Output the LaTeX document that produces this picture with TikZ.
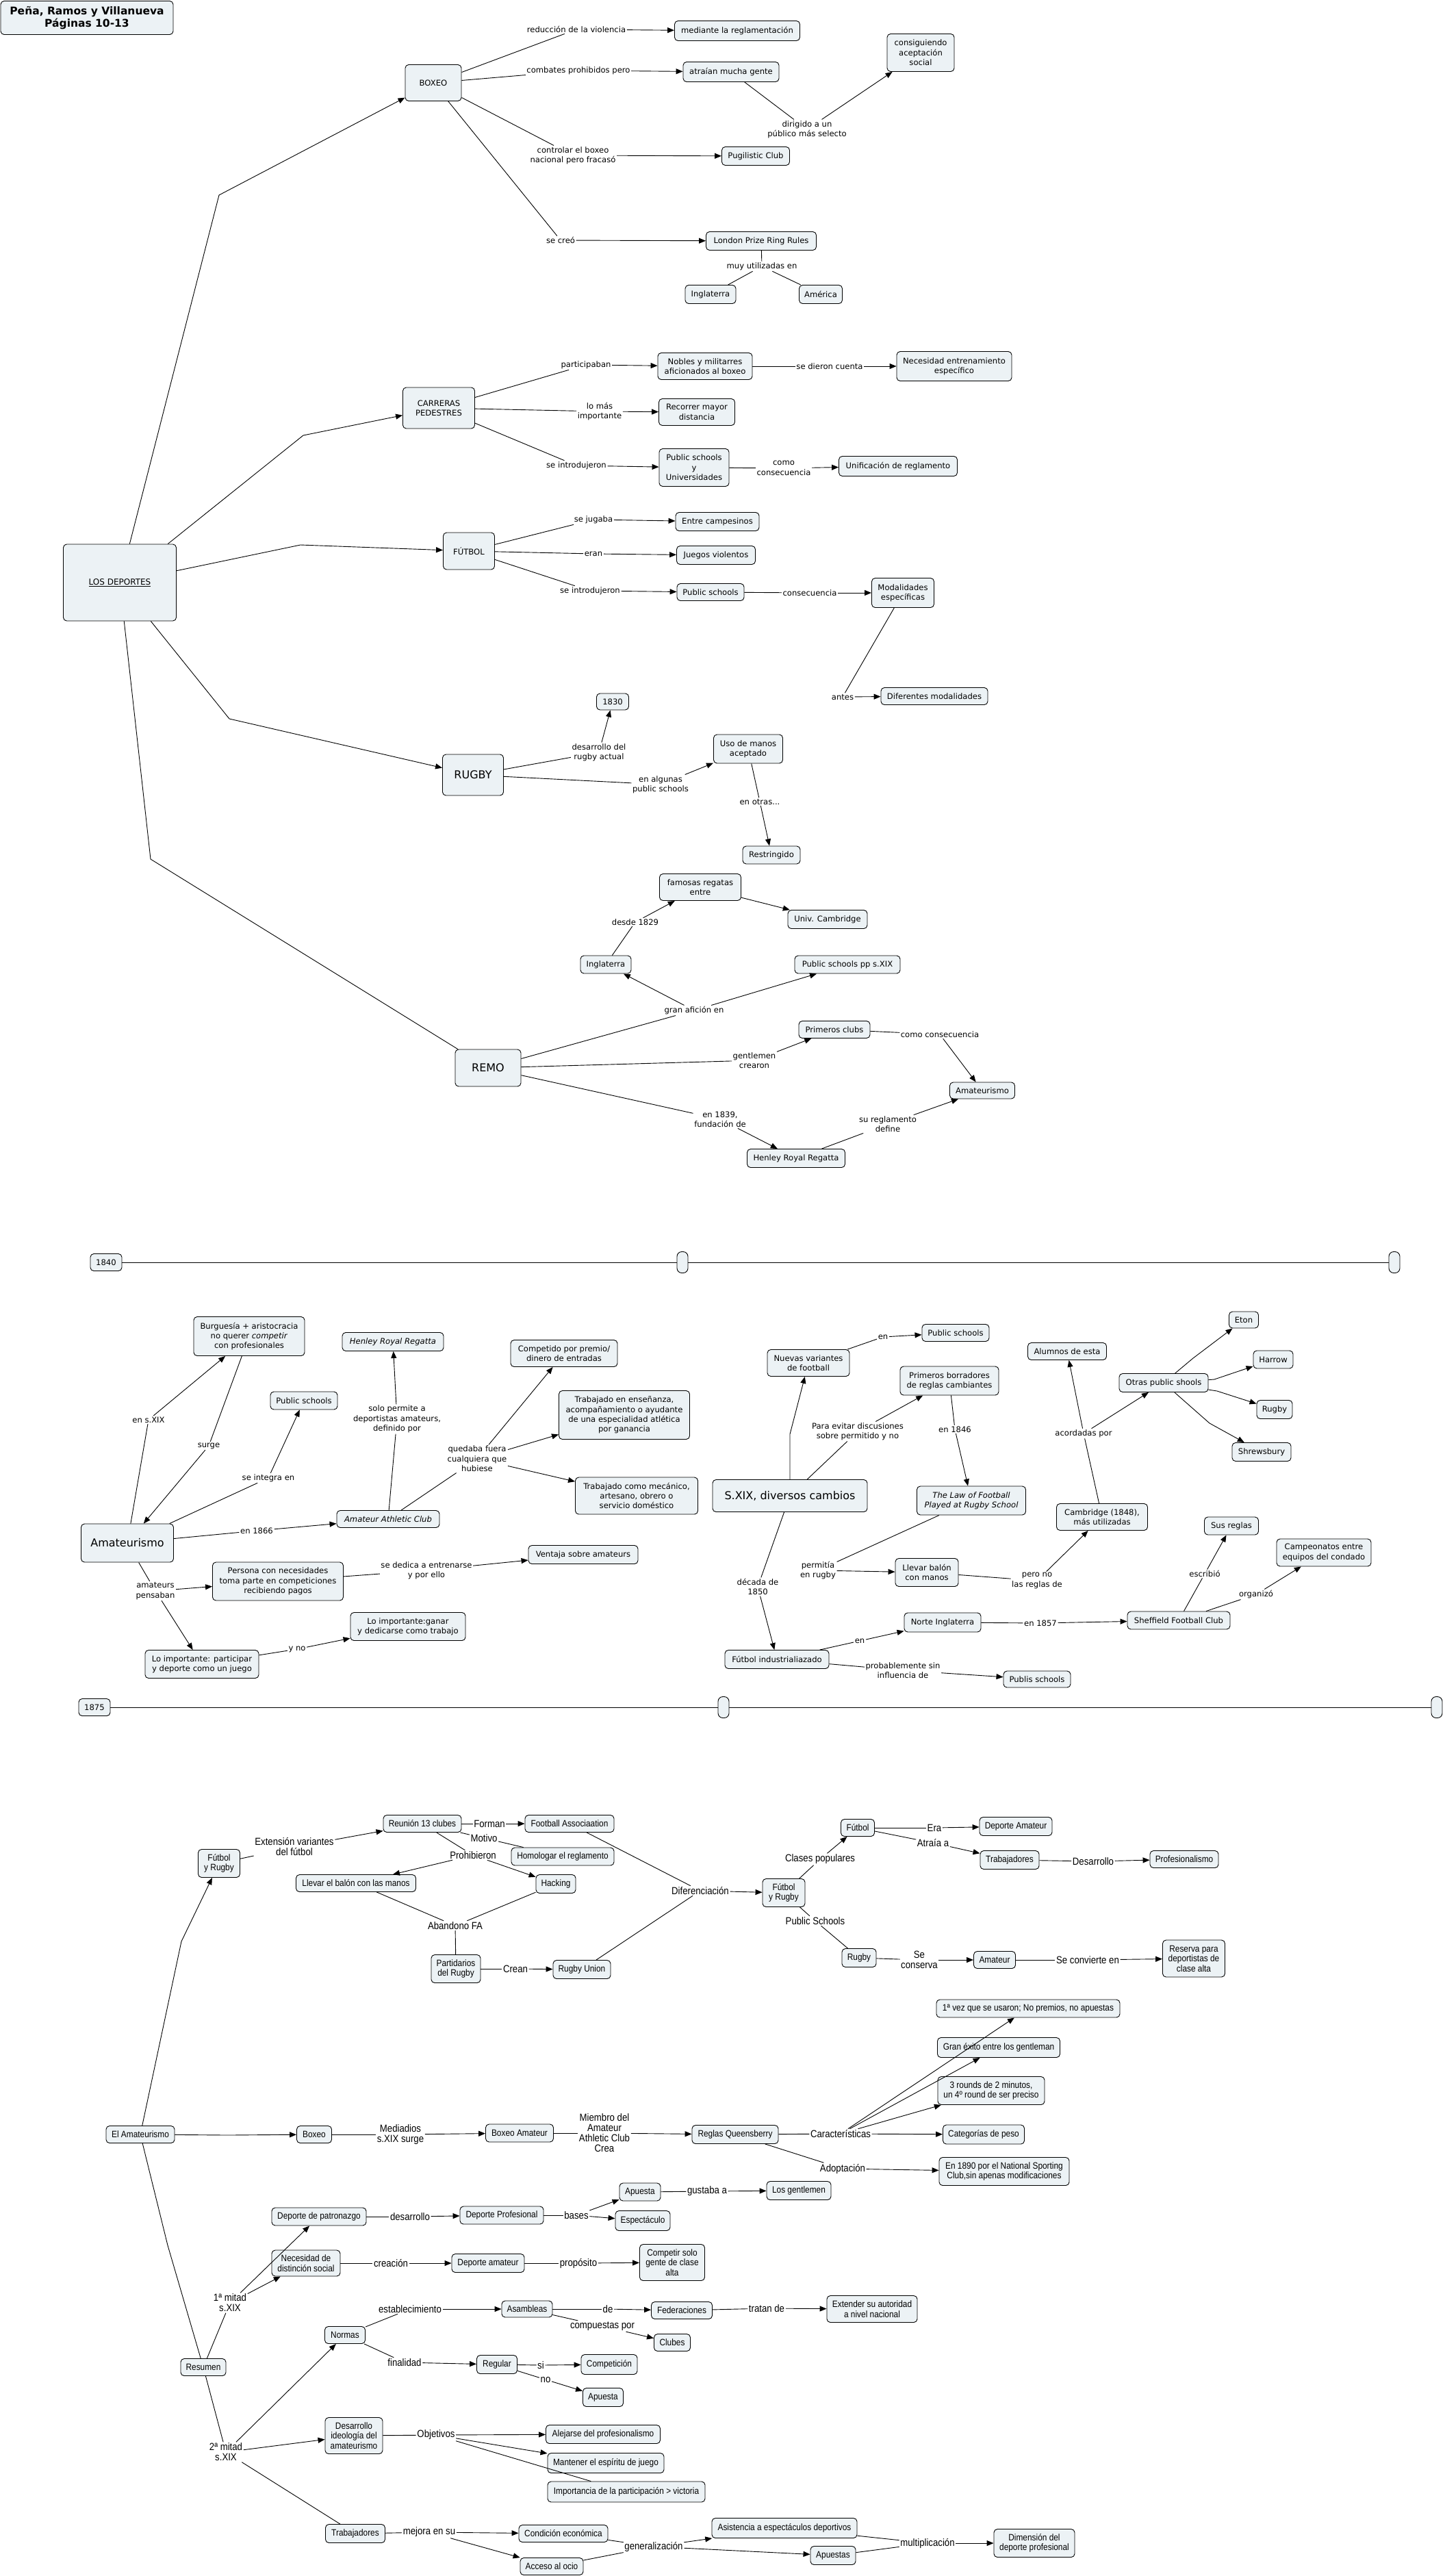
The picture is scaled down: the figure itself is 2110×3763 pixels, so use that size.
\documentclass[tikz,border=0pt]{standalone}
\usepackage{fontspec}
\setmainfont{DejaVu Sans}
\newfontfamily\narrowfam{Liberation Sans}[FakeStretch=0.88]
\usetikzlibrary{arrows.meta}
\definecolor{cfill}{RGB}{236,242,245}
\newcommand\fA{\fontsize{11.6}{14.4}\selectfont}
\newcommand\fBig{\fontsize{16}{19}\selectfont}
\newcommand\fB{\narrowfam\fontsize{13.5}{14.5}\selectfont}
\newcommand\fBL{\narrowfam\fontsize{15}{15}\selectfont}
\begin{document}
\begin{tikzpicture}[x=1pt,y=-1pt,
  cn/.style={draw=black, line width=0.9pt, fill=cfill, rounded corners=5pt, align=center, inner sep=2pt, font=\fA},
  cnb/.style={cn, font=\fB},
  cs/.style 2 args={minimum width=#1, minimum height=#2},
  lb/.style={align=center, inner sep=1.5pt, font=\fA},
  lbb/.style={align=center, inner sep=1.5pt, font=\fBL},
  conn/.style={line width=0.9pt},
  arr/.style={conn, -{Triangle[length=10pt,width=8pt]}},
  pill/.style={draw=black, line width=0.9pt, fill=cfill, rounded corners=7pt, minimum width=16, minimum height=31, inner sep=0pt}
]
\fill[white] (0,0) rectangle (2110,3763);
\useasboundingbox (0,0) rectangle (2110,3763);

% ================= TOP =================
\node[cn, cs={252}{49}, font=\fontsize{15.5}{18}\selectfont\bfseries] (title) at (127,26) {Peña, Ramos y Villanueva\\Páginas 10-13};
\node[cn, cs={165}{112}, font=\fontsize{12}{14}\selectfont] (ld) at (175,851) {\underline{LOS DEPORTES}};
\coordinate (b1) at (320,285);
\coordinate (b2) at (443,636);
\coordinate (b3) at (439,796);
\coordinate (b4) at (335,1050);
\coordinate (b5) at (220,1255);

% BOXEO
\node[cn, cs={82}{53}] (boxeo) at (633,121) {BOXEO};
\node[lb] (lred) at (842,43) {reducción de la violencia};
\node[cn, cs={183}{29}] (mediante) at (1077,45) {mediante la reglamentación};
\node[lb] (lcomb) at (845,103) {combates prohibidos pero};
\node[cn, cs={140}{29}] (atraian) at (1068,105) {atraían mucha gente};
\node[lb] (ldir) at (1179,189) {dirigido a un\\público más selecto};
\node[cn, cs={98}{55}] (consig) at (1345,77) {consiguiendo\\aceptación\\social};
\node[lb] (lctrl) at (837,227) {controlar el boxeo\\nacional pero fracasó};
\node[cn, cs={99}{27}] (pugil) at (1104,228) {Pugilistic Club};
\node[lb] (lcreo) at (819,351) {se creó};
\node[cn, cs={161}{27}] (lprr) at (1112,352) {London Prize Ring Rules};
\node[lb] (lmuy) at (1113,389) {muy utilizadas en};
\node[cn, cs={74}{27}] (ingl1) at (1038,430) {Inglaterra};
\node[cn, cs={63}{27}] (amer) at (1199,430) {América};

\draw[arr] (ld) -- (b1) -- (boxeo);
\draw[conn] (boxeo) -- (lred); \draw[arr] (lred) -- (mediante);
\draw[conn] (boxeo) -- (lcomb); \draw[arr] (lcomb) -- (atraian);
\draw[conn] (atraian) -- (ldir); \draw[arr] (ldir) -- (consig);
\draw[conn] (boxeo) -- (lctrl); \draw[arr] (lctrl) -- (pugil);
\draw[conn] (boxeo) -- (lcreo); \draw[arr] (lcreo) -- (lprr);
\draw[conn] (lprr) -- (lmuy); \draw[conn] (lmuy) -- (ingl1); \draw[conn] (lmuy) -- (amer);

% CARRERAS
\node[cn, cs={105}{60}] (carr) at (641,596) {CARRERAS\\PEDESTRES};
\node[lb] (lpart) at (856,533) {participaban};
\node[cn, cs={138}{39}] (nobles) at (1030,535) {Nobles y militarres\\aficionados al boxeo};
\node[lb] (ldieron) at (1212,535) {se dieron cuenta};
\node[cn, cs={168}{43}] (neces) at (1394,535) {Necesidad entrenamiento\\específico};
\node[lb] (llomas) at (876,601) {lo más\\importante};
\node[cn, cs={111}{39}] (recorrer) at (1018,602) {Recorrer mayor\\distancia};
\node[lb] (lintroa) at (842,680) {se introdujeron};
\node[cn, cs={102}{55}] (psu) at (1014,683) {Public schools\\y\\Universidades};
\node[lb] (lcomocons) at (1145,684) {como\\consecuencia};
\node[cn, cs={173}{29}] (unif) at (1312,681) {Unificación de reglamento};

\draw[arr] (ld) -- (b2) -- (carr);
\draw[conn] (carr) -- (lpart); \draw[arr] (lpart) -- (nobles);
\draw[conn] (nobles) -- (ldieron); \draw[arr] (ldieron) -- (neces);
\draw[conn] (carr) -- (llomas); \draw[arr] (llomas) -- (recorrer);
\draw[conn] (carr) -- (lintroa); \draw[arr] (lintroa) -- (psu);
\draw[conn] (psu) -- (lcomocons); \draw[arr] (lcomocons) -- (unif);

% FUTBOL
\node[cn, cs={75}{54}] (futbol) at (685,805) {FÚTBOL};
\node[lb] (ljugaba) at (867,759) {se jugaba};
\node[cn, cs={122}{27}] (campes) at (1048,762) {Entre campesinos};
\node[lb] (leran) at (867,809) {eran};
\node[cn, cs={115}{27}] (violentos) at (1046,811) {Juegos violentos};
\node[lb] (lintrob) at (862,863) {se introdujeron};
\node[cn, cs={98}{25}] (psa) at (1038,865) {Public schools};
\node[lb] (lcons) at (1183,866) {consecuencia};
\node[cn, cs={91}{43}] (modal) at (1319,866) {Modalidades\\específicas};
\node[lb] (lantes) at (1231,1018) {antes};
\node[cn, cs={156}{25}] (difmod) at (1365,1017) {Diferentes modalidades};

\draw[arr] (ld) -- (b3) -- (futbol);
\draw[conn] (futbol) -- (ljugaba); \draw[arr] (ljugaba) -- (campes);
\draw[conn] (futbol) -- (leran); \draw[arr] (leran) -- (violentos);
\draw[conn] (futbol) -- (lintrob); \draw[arr] (lintrob) -- (psa);
\draw[conn] (psa) -- (lcons); \draw[arr] (lcons) -- (modal);
\draw[conn] (modal) -- (lantes); \draw[arr] (lantes) -- (difmod);

% RUGBY
\node[cn, cs={47}{24}] (y1830) at (895,1025) {1830};
\node[cn, cs={89}{60}, font=\fBig] (rugby) at (691,1132) {RUGBY};
\node[lb] (ldesarr) at (875,1099) {desarrollo del\\rugby actual};
\node[lb] (lalgunas) at (965,1146) {en algunas\\public schools};
\node[cn, cs={101}{42}] (usomanos) at (1093,1094) {Uso de manos\\aceptado};
\node[lb] (lotras) at (1110,1171) {en otras...};
\node[cn, cs={84}{26}] (restr) at (1127,1249) {Restringido};

\draw[arr] (ld) -- (b4) -- (rugby);
\draw[conn] (rugby) -- (ldesarr); \draw[arr] (ldesarr) -- (y1830);
\draw[conn] (rugby) -- (lalgunas); \draw[arr] (lalgunas) -- (usomanos);
\draw[conn] (usomanos) -- (lotras); \draw[arr] (lotras) -- (restr);

% REMO
\node[cn, cs={119}{39}] (famosas) at (1023,1296) {famosas regatas\\entre};
\node[cn, cs={116}{27}] (cambr) at (1209,1343) {Univ. Cambridge};
\node[lb] (ldesde) at (928,1347) {desde 1829};
\node[cn, cs={74}{26}] (ingl2) at (885,1409) {Inglaterra};
\node[cn, cs={154}{26}] (psxix) at (1238,1409) {Public schools pp s.XIX};
\node[lb] (lgran) at (1014,1476) {gran afición en};
\node[cn, cs={96}{54}, font=\fBig] (remo) at (713,1560) {REMO};
\node[cn, cs={104}{25}] (primeros) at (1219,1504) {Primeros clubs};
\node[lb] (lgent) at (1102,1549) {gentlemen\\crearon};
\node[lb] (lcomocons2) at (1373,1511) {como consecuencia};
\node[cn, cs={95}{24}] (amata) at (1435,1593) {Amateurismo};
\node[lb] (l1839) at (1052,1635) {en 1839,\\fundación de};
\node[cn, cs={143}{27}] (henleya) at (1163,1692) {Henley Royal Regatta};
\node[lb] (lregl) at (1297,1642) {su reglamento\\define};

\draw[conn] (ld) -- (b5) -- (remo);
\draw[arr] (famosas) -- (cambr);
\draw[conn] (ingl2) -- (ldesde); \draw[arr] (ldesde) -- (famosas);
\draw[conn] (remo) -- (lgran); \draw[arr] (lgran) -- (ingl2); \draw[arr] (lgran) -- (psxix);
\draw[conn] (remo) -- (lgent); \draw[arr] (lgent) -- (primeros);
\draw[conn] (primeros) -- (lcomocons2); \draw[arr] (lcomocons2) -- (amata);
\draw[conn] (remo) -- (l1839); \draw[arr] (l1839) -- (henleya);
\draw[conn] (henleya) -- (lregl); \draw[arr] (lregl) -- (amata);

% ================= MIDDLE =================
\node[cn, cs={46}{25}] (y1840) at (155,1844) {1840};
\coordinate (t1a) at (552,1844);
\node[pill] (pilla) at (997,1844) {};
\coordinate (t1b) at (1239,1844);
\node[pill] (pillb) at (2037,1844) {};
\draw[conn] (y1840) -- (t1a) -- (pilla);
\draw[conn] (pilla) -- (t1b) -- (pillb);

\node[cn, cs={135}{56}, font=\fBig] (amatb) at (186,2254) {Amateurismo};
\node[cn, cs={162}{57}] (burg) at (364,1952) {Burguesía + aristocracia\\no querer \textit{competir}\\con profesionales};
\node[lb] (lsxix) at (217,2074) {en s.XIX};
\node[lb] (lsurge) at (305,2112) {surge};
\node[cn, cs={98}{26}] (psb) at (444,2046) {Public schools};
\node[lb] (lintegra) at (392,2159) {se integra en};
\node[cn, cs={148}{27}, font=\fA\itshape] (henleyb) at (574,1960) {Henley Royal Regatta};
\node[lb] (lsolo) at (580,2073) {solo permite a\\deportistas amateurs,\\definido por};
\node[cn, cs={150}{25}, font=\fA\itshape] (aac) at (567,2219) {Amateur Athletic Club};
\node[lb] (l1866) at (375,2236) {en 1866};
\node[lb] (lquedaba) at (697,2131) {quedaba fuera\\cualquiera que\\hubiese};
\node[cn, cs={156}{39}] (compet) at (824,1977) {Competido por premio/\\dinero de entradas};
\node[cn, cs={191}{71}] (trabens) at (912,2067) {Trabajado en enseñanza,\\acompañamiento o ayudante\\de una especialidad atlética\\por ganancia};
\node[cn, cs={179}{54}] (trabmec) at (930,2185) {Trabajado como mecánico,\\artesano, obrero o\\servicio doméstico};
\node[cn, cs={191}{56}] (persona) at (406,2310) {Persona con necesidades\\toma parte en competiciones\\recibiendo pagos};
\node[lb] (lpensaban) at (227,2324) {amateurs\\pensaban};
\node[lb] (ldedica) at (623,2294) {se dedica a entrenarse\\y por ello};
\node[cn, cs={160}{27}] (ventaja) at (852,2271) {Ventaja sobre amateurs};
\node[cn, cs={166}{41}] (loimpa) at (295,2431) {Lo importante: participar\\y deporte como un juego};
\node[lb] (lyno) at (434,2409) {y no};
\node[cn, cs={168}{41}] (loimpb) at (596,2376) {Lo importante:ganar\\y dedicarse como trabajo};

\draw[conn] (amatb) -- (lsxix); \draw[arr] (lsxix) -- (burg);
\draw[conn] (burg) -- (lsurge); \draw[arr] (lsurge) -- (amatb);
\draw[conn] (amatb) -- (lintegra); \draw[arr] (lintegra) -- (psb);
\draw[conn] (aac) -- (lsolo); \draw[arr] (lsolo) -- (henleyb);
\draw[conn] (amatb) -- (l1866); \draw[arr] (l1866) -- (aac);
\draw[conn] (aac) -- (lquedaba); \draw[arr] (lquedaba) -- (compet);
\draw[arr] (lquedaba) -- (trabens); \draw[arr] (lquedaba) -- (trabmec);
\draw[conn] (amatb) -- (lpensaban); \draw[arr] (lpensaban) -- (persona); \draw[arr] (lpensaban) -- (loimpa);
\draw[conn] (persona) -- (ldedica); \draw[arr] (ldedica) -- (ventaja);
\draw[conn] (loimpa) -- (lyno); \draw[arr] (lyno) -- (loimpb);

\node[cn, cs={226}{47}, font=\fBig] (sxix) at (1154,2185) {S.XIX, diversos cambios};
\node[cn, cs={120}{39}] (nuevas) at (1181,1991) {Nuevas variantes\\de football};
\coordinate (tnv) at (1154,2095);
\node[lb] (lena) at (1290,1953) {en};
\node[cn, cs={98}{25}] (psc) at (1396,1947) {Public schools};
\node[lb] (levitar) at (1253,2091) {Para evitar discusiones\\sobre permitido y no};
\node[cn, cs={144}{42}] (primbor) at (1387,2017) {Primeros borradores\\de reglas cambiantes};
\node[lb] (l1846) at (1395,2088) {en 1846};
\node[cn, cs={159}{42}, font=\fA\itshape] (law) at (1419,2192) {The Law of Football\\Played at Rugby School};
\node[lb] (lpermitia) at (1195,2294) {permitía\\en rugby};
\node[cn, cs={92}{41}] (llevara) at (1354,2297) {Llevar balón\\con manos};
\node[lb] (lperono) at (1515,2309) {pero no\\las reglas de};
\node[cn, cs={133}{39}] (cambridge) at (1610,2216) {Cambridge (1848),\\más utilizadas};
\node[lb] (lacord) at (1583,2094) {acordadas por};
\node[cn, cs={115}{25}] (alumnos) at (1559,1974) {Alumnos de esta};
\node[cn, cs={130}{27}] (otras) at (1700,2020) {Otras public shools};
\node[cn, cs={43}{24}] (eton) at (1817,1928) {Eton};
\node[cn, cs={58}{26}] (harrow) at (1860,1986) {Harrow};
\node[cn, cs={52}{27}] (rugbys) at (1862,2059) {Rugby};
\node[cn, cs={86}{27}] (shrews) at (1843,2121) {Shrewsbury};
\coordinate (geton) at (1743,1984);
\coordinate (gharrow) at (1774,2015);
\coordinate (grugby) at (1778,2032);
\coordinate (gshrews) at (1767,2079);
\node[lb] (l1850) at (1107,2318) {década de\\1850};
\node[cn, cs={152}{27}] (futind) at (1135,2424) {Fútbol industrialiazado};
\node[lb] (lenb) at (1256,2397) {en};
\node[cn, cs={112}{28}] (norte) at (1377,2370) {Norte Inglaterra};
\node[lb] (l1857) at (1520,2371) {en 1857};
\node[cn, cs={150}{26}] (sheff) at (1722,2367) {Sheffield Football Club};
\node[lb] (lescr) at (1760,2299) {escribió};
\node[cn, cs={79}{26}] (susreglas) at (1799,2229) {Sus reglas};
\node[lb] (lorgan) at (1835,2329) {organizó};
\node[cn, cs={138}{40}] (campeon) at (1934,2268) {Campeonatos entre\\equipos del condado};
\node[lb] (lprob) at (1319,2440) {probablemente sin\\influencia de};
\node[cn, cs={98}{24}] (publis) at (1515,2453) {Publis schools};

\draw[arr] (sxix) -- (tnv) -- (nuevas);
\draw[conn] (nuevas) -- (lena); \draw[arr] (lena) -- (psc);
\draw[conn] (sxix) -- (levitar); \draw[arr] (levitar) -- (primbor);
\draw[conn] (primbor) -- (l1846); \draw[arr] (l1846) -- (law);
\draw[conn] (law) -- (lpermitia); \draw[arr] (lpermitia) -- (llevara);
\draw[conn] (llevara) -- (lperono); \draw[arr] (lperono) -- (cambridge);
\draw[conn] (cambridge) -- (lacord); \draw[arr] (lacord) -- (alumnos); \draw[arr] (lacord) -- (otras);
\draw[arr] (otras) -- (geton) -- (eton);
\draw[arr] (otras) -- (gharrow) -- (harrow);
\draw[arr] (otras) -- (grugby) -- (rugbys);
\draw[arr] (otras) -- (gshrews) -- (shrews);
\draw[conn] (sxix) -- (l1850); \draw[arr] (l1850) -- (futind);
\draw[conn] (futind) -- (lenb); \draw[arr] (lenb) -- (norte);
\draw[conn] (norte) -- (l1857); \draw[arr] (l1857) -- (sheff);
\draw[conn] (sheff) -- (lescr); \draw[arr] (lescr) -- (susreglas);
\draw[conn] (sheff) -- (lorgan); \draw[arr] (lorgan) -- (campeon);
\draw[conn] (futind) -- (lprob); \draw[arr] (lprob) -- (publis);

\node[cn, cs={46}{25}] (y1875) at (138,2494) {1875};
\coordinate (t2a) at (605,2494);
\node[pill] (pillc) at (1057,2494) {};
\coordinate (t2b) at (1427,2494);
\node[pill] (pilld) at (2099,2494) {};
\draw[conn] (y1875) -- (t2a) -- (pillc);
\draw[conn] (pillc) -- (t2b) -- (pilld);

% ================= BOTTOM =================
\node[cnb, cs={61}{41}] (fyra) at (320,2722) {Fútbol\\y Rugby};
\coordinate (gfyr) at (265,2836);
\node[cnb, cs={100}{25}] (elamat) at (205,3118) {El Amateurismo};
\node[lbb] (lext) at (430,2698) {Extensión variantes\\del fútbol};
\node[cnb, cs={114}{25}] (reunion) at (617,2664) {Reunión 13 clubes};
\node[lbb] (lforman) at (715,2664) {Forman};
\node[cnb, cs={130}{25}] (fa) at (832,2664) {Football Associaation};
\node[lbb] (lmotivo) at (707,2685) {Motivo};
\node[cnb, cs={150}{26}] (homolog) at (822,2712) {Homologar el reglamento};
\node[lbb] (lprohib) at (691,2710) {Prohibieron};
\node[cnb, cs={175}{25}] (llevarb) at (520,2751) {Llevar el balón con las manos};
\node[cnb, cs={58}{27}] (hacking) at (812,2752) {Hacking};
\node[lbb] (laband) at (665,2813) {Abandono FA};
\node[cnb, cs={72}{41}] (partid) at (666,2876) {Partidarios\\del Rugby};
\node[lbb] (lcrean) at (753,2876) {Crean};
\node[cnb, cs={84}{27}] (runion) at (850,2877) {Rugby Union};
\node[lbb] (ldifer) at (1023,2762) {Diferenciación};
\node[cnb, cs={62}{41}] (fyrb) at (1145,2765) {Fútbol\\y Rugby};
\node[lbb] (lclases) at (1198,2716) {Clases populares};
\node[cnb, cs={49}{25}] (futbb) at (1253,2670) {Fútbol};
\node[lbb] (lera) at (1365,2670) {Era};
\node[cnb, cs={106}{27}] (depam) at (1484,2668) {Deporte Amateur};
\node[lbb] (latraia) at (1363,2692) {Atraía a};
\node[cnb, cs={86}{27}] (traba) at (1475,2717) {Trabajadores};
\node[lbb] (ldesarrb) at (1597,2719) {Desarrollo};
\node[cnb, cs={100}{25}] (profes) at (1730,2716) {Profesionalismo};
\node[lbb] (lpubsch) at (1191,2806) {Public Schools};
\node[cnb, cs={50}{27}] (rugbb) at (1255,2860) {Rugby};
\node[lbb] (lsecons) at (1343,2863) {Se\\conserva};
\node[cnb, cs={61}{25}] (amatc) at (1453,2863) {Amateur};
\node[lbb] (lconv) at (1589,2863) {Se convierte en};
\node[cnb, cs={91}{54}] (reserva) at (1744,2861) {Reserva para\\deportistas de\\clase alta};

\draw[arr] (elamat) -- (gfyr) -- (fyra);
\draw[conn] (fyra) -- (lext); \draw[arr] (lext) -- (reunion);
\draw[conn] (reunion) -- (lforman); \draw[arr] (lforman) -- (fa);
\draw[conn] (reunion) -- (lmotivo); \draw[conn] (lmotivo) -- (homolog);
\draw[conn] (reunion) -- (lprohib); \draw[arr] (lprohib) -- (llevarb); \draw[arr] (lprohib) -- (hacking);
\draw[conn] (llevarb) -- (laband); \draw[conn] (hacking) -- (laband); \draw[conn] (laband) -- (partid);
\draw[conn] (partid) -- (lcrean); \draw[arr] (lcrean) -- (runion);
\draw[conn] (fa) -- (ldifer); \draw[conn] (runion) -- (ldifer); \draw[arr] (ldifer) -- (fyrb);
\draw[conn] (fyrb) -- (lclases); \draw[arr] (lclases) -- (futbb);
\draw[conn] (futbb) -- (lera); \draw[arr] (lera) -- (depam);
\draw[conn] (futbb) -- (latraia); \draw[arr] (latraia) -- (traba);
\draw[conn] (traba) -- (ldesarrb); \draw[arr] (ldesarrb) -- (profes);
\draw[conn] (fyrb) -- (lpubsch); \draw[conn] (lpubsch) -- (rugbb);
\draw[conn] (rugbb) -- (lsecons); \draw[arr] (lsecons) -- (amatc);
\draw[conn] (amatc) -- (lconv); \draw[arr] (lconv) -- (reserva);

\coordinate (gbox) at (333,3119);
\node[cnb, cs={51}{25}] (boxeob) at (459,3118) {Boxeo};
\node[lbb] (lmedi) at (585,3118) {Mediadios\\s.XIX surge};
\node[cnb, cs={99}{26}] (boxam) at (759,3116) {Boxeo Amateur};
\node[lbb] (lmiembro) at (883,3116) {Miembro del\\Amateur\\Athletic Club\\Crea};
\node[cnb, cs={126}{27}] (queens) at (1074,3118) {Reglas Queensberry};
\node[lbb] (lcaract) at (1228,3117) {Características};
\node[cnb, cs={268}{26}] (ca) at (1502,2934) {1ª vez que se usaron; No premios, no apuestas};
\node[cnb, cs={179}{29}] (cb) at (1459,2991) {Gran éxito entre los gentleman};
\node[cnb, cs={156}{41}] (cc) at (1448,3054) {3 rounds de 2 minutos,\\un 4º round de ser preciso};
\node[cnb, cs={119}{28}] (cd) at (1437,3118) {Categorías de peso};
\node[lbb] (ladopt) at (1231,3168) {Adoptación};
\node[cnb, cs={190}{41}] (en1890) at (1467,3172) {En 1890 por el National Sporting\\Club,sin apenas modificaciones};

\draw[arr] (elamat) -- (gbox) -- (boxeob);
\draw[conn] (boxeob) -- (lmedi); \draw[arr] (lmedi) -- (boxam);
\draw[conn] (boxam) -- (lmiembro); \draw[arr] (lmiembro) -- (queens);
\draw[conn] (queens) -- (lcaract);
\draw[arr] (lcaract) -- (ca); \draw[arr] (lcaract) -- (cb); \draw[arr] (lcaract) -- (cc); \draw[arr] (lcaract) -- (cd);
\draw[conn] (queens) -- (ladopt); \draw[arr] (ladopt) -- (en1890);

\coordinate (gres) at (245,3280);
\node[cnb, cs={66}{25}] (resumen) at (297,3458) {Resumen};
\node[lbb] (l1mitad) at (336,3364) {1ª mitad\\s.XIX};
\node[cnb, cs={138}{26}] (patron) at (466,3238) {Deporte de patronazgo};
\node[lbb] (ldesarrc) at (599,3238) {desarrollo};
\node[cnb, cs={122}{26}] (deppro) at (733,3236) {Deporte Profesional};
\node[lbb] (lbases) at (842,3236) {bases};
\node[cnb, cs={60}{26}] (apuestaa) at (935,3202) {Apuesta};
\node[lbb] (lgust) at (1033,3201) {gustaba a};
\node[cnb, cs={94}{27}] (gentlemen) at (1167,3200) {Los gentlemen};
\node[cnb, cs={80}{29}] (espect) at (939,3244) {Espectáculo};
\node[cnb, cs={100}{38}] (necdist) at (447,3306) {Necesidad de\\distinción social};
\node[lbb] (lcreac) at (571,3306) {creación};
\node[cnb, cs={106}{27}] (depama) at (713,3306) {Deporte amateur};
\node[lbb] (lprop) at (845,3306) {propósito};
\node[cnb, cs={95}{53}] (competir) at (982,3305) {Competir solo\\gente de clase\\alta};
\node[cnb, cs={59}{25}] (normas) at (504,3411) {Normas};
\node[lbb] (l2mitad) at (330,3582) {2ª mitad\\s.XIX};
\node[lbb] (lestab) at (599,3373) {establecimiento};
\node[cnb, cs={74}{24}] (asamb) at (770,3373) {Asambleas};
\node[lbb] (lde) at (888,3373) {de};
\node[cnb, cs={89}{25}] (feder) at (996,3375) {Federaciones};
\node[lbb] (ltratan) at (1120,3372) {tratan de};
\node[cnb, cs={132}{39}] (extender) at (1274,3373) {Extender su autoridad\\a nivel nacional};
\node[lbb] (lcompu) at (880,3398) {compuestas por};
\node[cnb, cs={53}{25}] (clubes) at (982,3422) {Clubes};
\node[lbb] (lfinal) at (591,3451) {finalidad};
\node[cnb, cs={59}{27}] (regular) at (726,3454) {Regular};
\node[lbb] (lsi) at (790,3455) {si};
\node[cnb, cs={82}{29}] (competic) at (890,3454) {Competición};
\node[lbb] (lno) at (797,3476) {no};
\node[cnb, cs={59}{27}] (apuestab) at (881,3502) {Apuesta};
\node[cnb, cs={84}{53}] (desideo) at (517,3558) {Desarrollo\\ideología del\\amateurismo};
\node[lbb] (lobj) at (637,3557) {Objetivos};
\node[cnb, cs={167}{27}] (alejarse) at (881,3556) {Alejarse del profesionalismo};
\node[cnb, cs={170}{29}] (mantener) at (885,3598) {Mantener el espíritu de juego};
\node[cnb, cs={230}{30}] (importancia) at (915,3640) {Importancia de la participación > victoria};
\node[cnb, cs={87}{27}] (trabb) at (519,3701) {Trabajadores};
\node[lbb] (lmejora) at (627,3699) {mejora en su};
\node[cnb, cs={130}{25}] (condic) at (823,3701) {Condición económica};
\node[cnb, cs={92}{25}] (acceso) at (806,3749) {Acceso al ocio};
\node[lbb] (lgener) at (955,3720) {generalización};
\node[cnb, cs={212}{29}] (asist) at (1146,3693) {Asistencia a espectáculos deportivos};
\node[cnb, cs={66}{27}] (apuestas) at (1217,3733) {Apuestas};
\node[lbb] (lmulti) at (1355,3715) {multiplicación};
\node[cnb, cs={118}{41}] (dimension) at (1511,3715) {Dimensión del\\deporte profesional};

\draw[conn] (elamat) -- (gres) -- (resumen);
\draw[conn] (resumen) -- (l1mitad); \draw[arr] (l1mitad) -- (patron); \draw[arr] (l1mitad) -- (necdist);
\draw[conn] (patron) -- (ldesarrc); \draw[arr] (ldesarrc) -- (deppro);
\draw[conn] (deppro) -- (lbases); \draw[arr] (lbases) -- (apuestaa); \draw[arr] (lbases) -- (espect);
\draw[conn] (apuestaa) -- (lgust); \draw[arr] (lgust) -- (gentlemen);
\draw[conn] (necdist) -- (lcreac); \draw[arr] (lcreac) -- (depama);
\draw[conn] (depama) -- (lprop); \draw[arr] (lprop) -- (competir);
\draw[conn] (resumen) -- (l2mitad); \draw[arr] (l2mitad) -- (normas); \draw[arr] (l2mitad) -- (desideo); \draw[conn] (l2mitad) -- (trabb);
\draw[conn] (normas) -- (lestab); \draw[arr] (lestab) -- (asamb);
\draw[conn] (asamb) -- (lde); \draw[arr] (lde) -- (feder);
\draw[conn] (feder) -- (ltratan); \draw[arr] (ltratan) -- (extender);
\draw[conn] (asamb) -- (lcompu); \draw[arr] (lcompu) -- (clubes);
\draw[conn] (normas) -- (lfinal); \draw[arr] (lfinal) -- (regular);
\draw[conn] (regular) -- (lsi); \draw[arr] (lsi) -- (competic);
\draw[conn] (regular) -- (lno); \draw[arr] (lno) -- (apuestab);
\draw[conn] (desideo) -- (lobj); \draw[arr] (lobj) -- (alejarse); \draw[arr] (lobj) -- (mantener); \draw[conn] (lobj) -- (importancia);
\draw[conn] (trabb) -- (lmejora); \draw[arr] (lmejora) -- (condic); \draw[arr] (lmejora) -- (acceso);
\draw[conn] (condic) -- (lgener); \draw[conn] (acceso) -- (lgener);
\draw[arr] (lgener) -- (asist); \draw[arr] (lgener) -- (apuestas);
\draw[conn] (asist) -- (lmulti); \draw[conn] (apuestas) -- (lmulti); \draw[arr] (lmulti) -- (dimension);
\end{tikzpicture}
\end{document}
